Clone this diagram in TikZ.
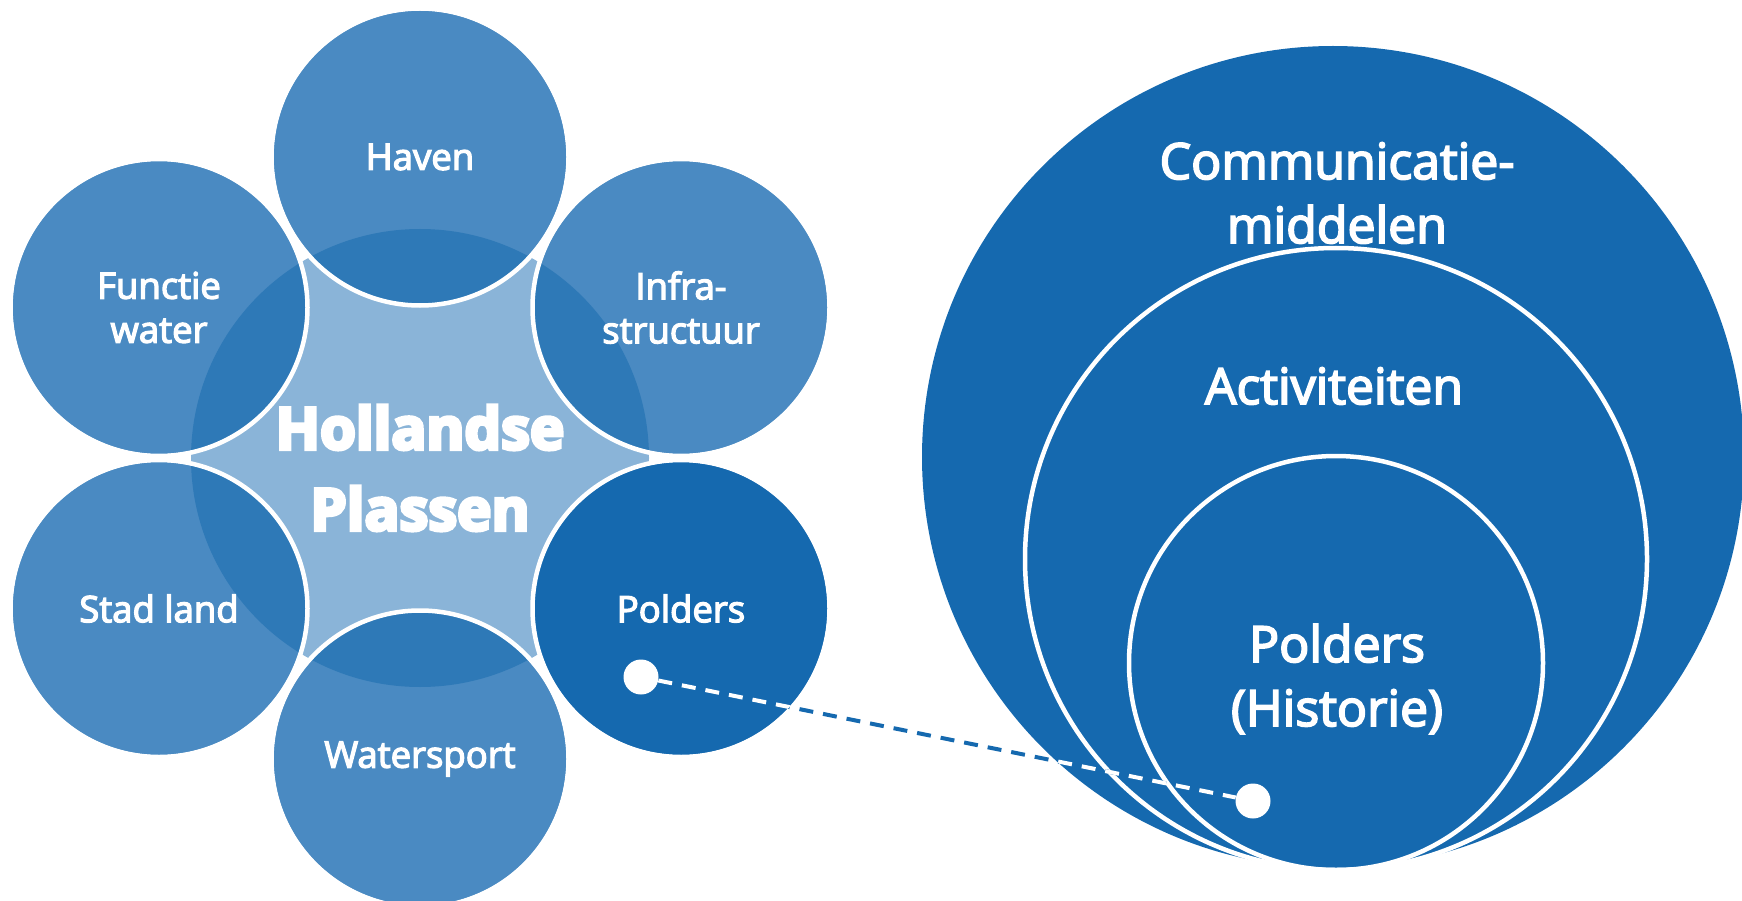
\documentclass[tikz,border=0pt]{standalone}
\usepackage{fontspec}
\setmainfont{Open Sans}[FakeBold=3.5]
\newfontfamily\heavyfont{Open Sans}[BoldFeatures={FakeBold=6}]
\usepackage{tikz}

\definecolor{petal}{HTML}{4A8AC2}
\definecolor{overlap}{HTML}{2E79B7}
\definecolor{core}{HTML}{8AB4D8}
\definecolor{deepblue}{HTML}{1569AF}

\tikzset{
  ring/.style={draw=white, line width=4.5pt},
  petaltext/.style={text=white, align=center, font=\fontsize{36.5}{44}\selectfont},
  bigtext/.style={text=white, align=center, font=\fontsize{50}{64}\selectfont},
  dot/.style={circle, fill=white, inner sep=0pt, minimum size=35pt},
  link/.style={line width=4pt, dash pattern=on 14pt off 10pt}
}

\begin{document}
\begin{tikzpicture}[x=1pt, y=-1pt]
\useasboundingbox (0,0) rectangle (1742,901);
\clip (0,0) rectangle (1742,901);
% left: the lakes with six themes round them
\coordinate (hub) at (420,458);
\coordinate (haven) at (420,157);
\coordinate (infra) at (681,307.5);
\coordinate (polders) at (681,608.5);
\coordinate (watersport) at (420,759);
\coordinate (stad) at (159,608.5);
\coordinate (functie) at (159,307.5);
\fill[core] (hub) circle (229);
\foreach \c in {haven,infra,watersport,stad,functie}
  \fill[petal] (\c) circle (146.5);
\fill[deepblue] (polders) circle (146.5);
\begin{scope}
\clip (hub) circle (229);
\foreach \c in {haven,infra,watersport,stad,functie}
  \fill[overlap] (\c) circle (146.5);
\end{scope}
\foreach \c in {haven,infra,polders,watersport,stad,functie}
  \draw[ring] (\c) circle (148.5);
\node[petaltext] (haventxt) at (haven) {Haven};
\node[petaltext] (infratxt) at (infra) {Infra-\\structuur};
\node[petaltext] (polderstxt) at (polders) {Polders};
\node[petaltext] (watersporttxt) at (watersport) {Watersport};
\node[petaltext] (stadtxt) at (stad) {Stad land};
\node[petaltext] (functietxt) at (functie) {Functie\\water};
\node[text=white, align=center, font=\heavyfont\bfseries\fontsize{58}{81}\selectfont] (hubtxt) at (420,468) {Hollandse\\Plassen};
% right: nested circles
\coordinate (outer) at (1333,457);
\coordinate (middle) at (1336,559);
\coordinate (inner) at (1336,663);
\fill[deepblue] (outer) circle (411);
\draw[ring] (middle) circle (311);
\draw[ring] (inner) circle (207);
\node[bigtext] (outertxt) at (1337,193) {Communicatie-\\middelen};
\node[bigtext] (middletxt) at (1334,386) {Activiteiten};
\node[bigtext] (innertxt) at (1337,679) {Polders\\(Historie)};
% link from Polders to the inner circle
\node[dot] (from) at (641,677) {};
\node[dot] (to) at (1253,801) {};
\draw[link, deepblue] (from) -- (to);
\begin{scope}
\clip (polders) circle (146.5) (outer) circle (411);
\draw[link, white] (from) -- (to);
\end{scope}
\end{tikzpicture}
\end{document}
